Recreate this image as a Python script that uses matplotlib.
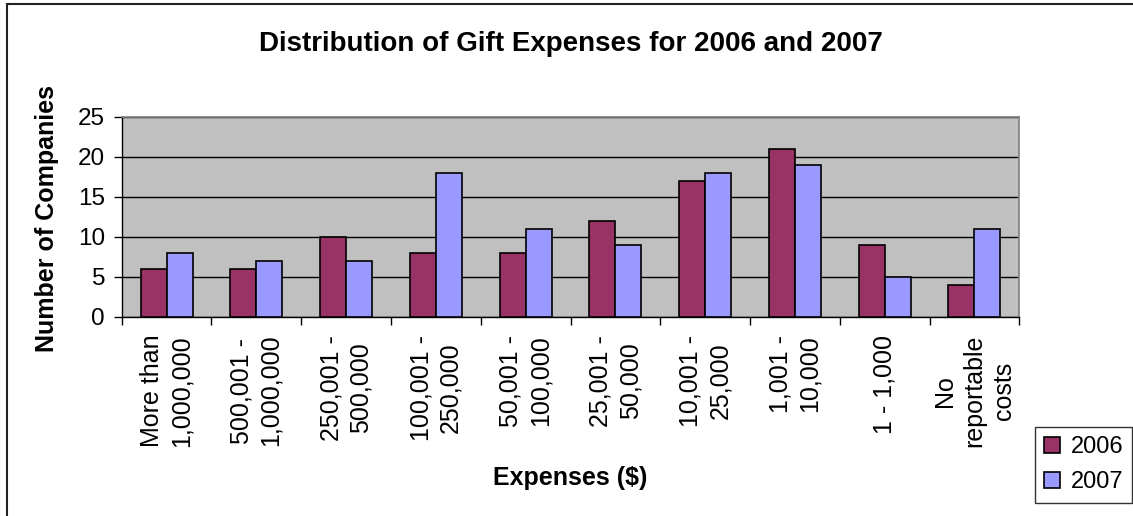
import matplotlib
matplotlib.use("Agg")
import matplotlib.pyplot as plt
import numpy as np
from matplotlib.patches import Rectangle

categories = ["More than\n1,000,000", "500,001 -\n1,000,000", "250,001 -\n500,000",
              "100,001 -\n250,000", "50,001 -\n100,000", "25,001 -\n50,000",
              "10,001 -\n25,000", "1,001 -\n10,000", "1 - 1,000",
              "No\nreportable\ncosts"]
values_2006 = [6, 6, 10, 8, 8, 12, 17, 21, 9, 4]
values_2007 = [8, 7, 7, 18, 11, 9, 18, 19, 5, 11]
series_names = ["2006", "2007"]
yticks = [0, 5, 10, 15, 20, 25]

plt.rcParams['font.family'] = ['Liberation Sans', 'DejaVu Sans']

W, H = 1133, 516
fig = plt.figure(figsize=(W / 100, H / 100), dpi=100)
fig.patch.set_facecolor("white")

# outer chart border (left & top visible)
fig.add_artist(Rectangle((7 / W, -0.1), 1.2, (1 - 3.5 / H) + 0.1, transform=fig.transFigure,
                         fill=False, edgecolor="#222222", linewidth=1.5))

left, right, top, bottom = 121.7, 1019.3, 116.7, 316.7
ax = fig.add_axes([left / W, 1 - bottom / H, (right - left) / W, (bottom - top) / H])
ax.set_facecolor("#C0C0C0")

x = np.arange(len(categories))
bw = 0.29
ax.bar(x - bw / 2, values_2006, bw, color="#993366", edgecolor="black", linewidth=1.2,
       label=series_names[0], zorder=3)
ax.bar(x + bw / 2, values_2007, bw, color="#9999FF", edgecolor="black", linewidth=1.2,
       label=series_names[1], zorder=3)

ax.set_xlim(-0.5, len(categories) - 0.5)
ax.set_ylim(0, 25)
ax.set_yticks(yticks)
ax.set_yticklabels([str(v) for v in yticks], fontsize=17.5)
ax.yaxis.grid(True, color="black", linewidth=1, zorder=1)
ax.set_axisbelow(True)

ax.set_xticks(x)
ax.set_xticklabels(categories, rotation=90, fontsize=18, ha="center", va="top",
                   multialignment="center", linespacing=1.28)
ax.tick_params(axis="x", length=0, pad=13)
ax.set_xticks(np.arange(-0.5, len(categories), 1.0), minor=True)
ax.tick_params(axis="x", which="minor", length=6, width=1, direction="out", color="black")
ax.tick_params(axis="y", length=6, width=1, direction="out", pad=6)

for s in ["top", "right"]:
    ax.spines[s].set_color("#808080")
    ax.spines[s].set_linewidth(1.2)
for s in ["left", "bottom"]:
    ax.spines[s].set_color("black")
    ax.spines[s].set_linewidth(1.0)

fig.text(((left + right) / 2) / W, 1 - 44 / H, "Distribution of Gift Expenses for 2006 and 2007",
         ha="center", va="center", fontsize=20, fontweight="bold")
fig.text(47 / W, 1 - 218 / H, "Number of Companies", rotation=90, ha="center", va="center",
         fontsize=18, fontweight="bold")
fig.text(570 / W, 1 - 478 / H, "Expenses ($)", ha="center", va="center",
         fontsize=18, fontweight="bold")

leg = fig.legend(loc="upper left", bbox_to_anchor=(1035 / W, 1 - 427 / H),
                 fontsize=17, frameon=True, fancybox=False, edgecolor="black",
                 handlelength=0.65, handleheight=0.65, handletextpad=0.45,
                 labelspacing=0.55, borderpad=0.4, borderaxespad=0)
leg.get_frame().set_linewidth(1.0)

fig.savefig("out.png", dpi=100)
